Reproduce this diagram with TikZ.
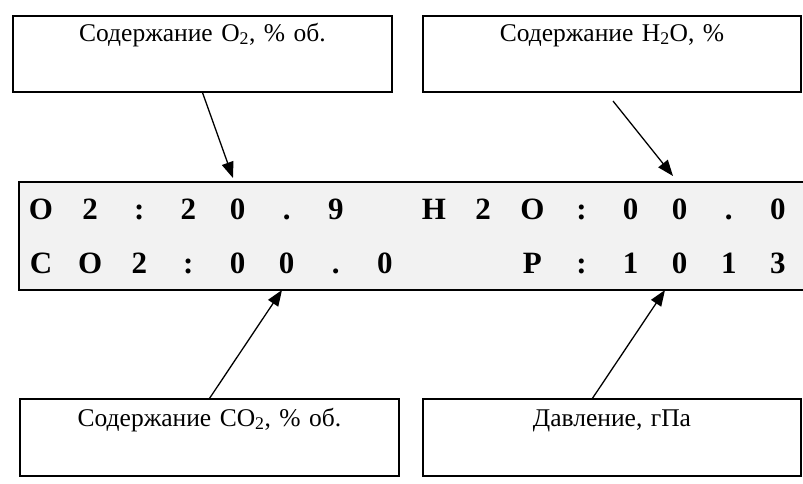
\documentclass[tikz,border=0pt]{standalone}
\usepackage{fontspec}
\setmainfont{Liberation Serif}
\usetikzlibrary{arrows.meta}
\tikzset{
  lbox/.style={draw=black, line width=1.2pt, inner sep=0pt, align=center,
    text width=#1, text height=25pt, text depth=51pt, font=\fontsize{25.5}{28}\selectfont},
  lbox/.default=379pt,
  lowbox/.style={text height=27pt, text depth=50pt},
  disp/.style={draw=black, line width=2.2pt, fill=black!5, inner sep=0pt, anchor=north west,
    minimum width=792pt, minimum height=108pt},
  dchar/.style={anchor=base, inner sep=0pt, font=\fontsize{31}{31}\selectfont\bfseries},
  arr/.style={line width=1.3pt, -{Triangle[length=16pt,width=12pt]}}
}
\begin{document}
\begin{tikzpicture}[x=1pt,y=-1pt]
\useasboundingbox (0,0) rectangle (803,483);
% display
\node[disp] (display) at (18,181) {};
% characters
\foreach \c [count=\i from 0] in {O,2,:,2,0,.,9,{},H,2,O,:,0,0,.,0}{
  \node[dchar] (ra\i) at (41+49.13*\i,219) {\c};
}
\foreach \c [count=\i from 0] in {C,O,2,:,0,0,.,0,{},{},P,:,1,0,1,3}{
  \node[dchar] (rb\i) at (41+49.13*\i,273) {\c};
}
% label boxes
\node[lbox] (bo2) at (202.5,54) {Содержание O\textsubscript{2}, \% об.};
\node[lbox=378pt] (bh2o) at (612,54) {Содержание H\textsubscript{2}O, \%};
\node[lbox, lowbox] (bco2) at (209.5,437.5) {Содержание CO\textsubscript{2}, \% об.};
\node[lbox=378pt, lowbox] (bp) at (612,437.5) {Давление, гПа};
% connector end points
\coordinate (e1) at (233,178);
\coordinate (s2) at (613,101);
\coordinate (e2) at (673,176);
\coordinate (e3) at (282,290);
\coordinate (s4) at (592,399);
\coordinate (e4) at (665,290);
% arrows
\draw[arr] (bo2.south) -- (e1);
\draw[arr] (s2) -- (e2);
\draw[arr] (bco2.north) -- (e3);
\draw[arr] (s4) -- (e4);
\end{tikzpicture}
\end{document}
